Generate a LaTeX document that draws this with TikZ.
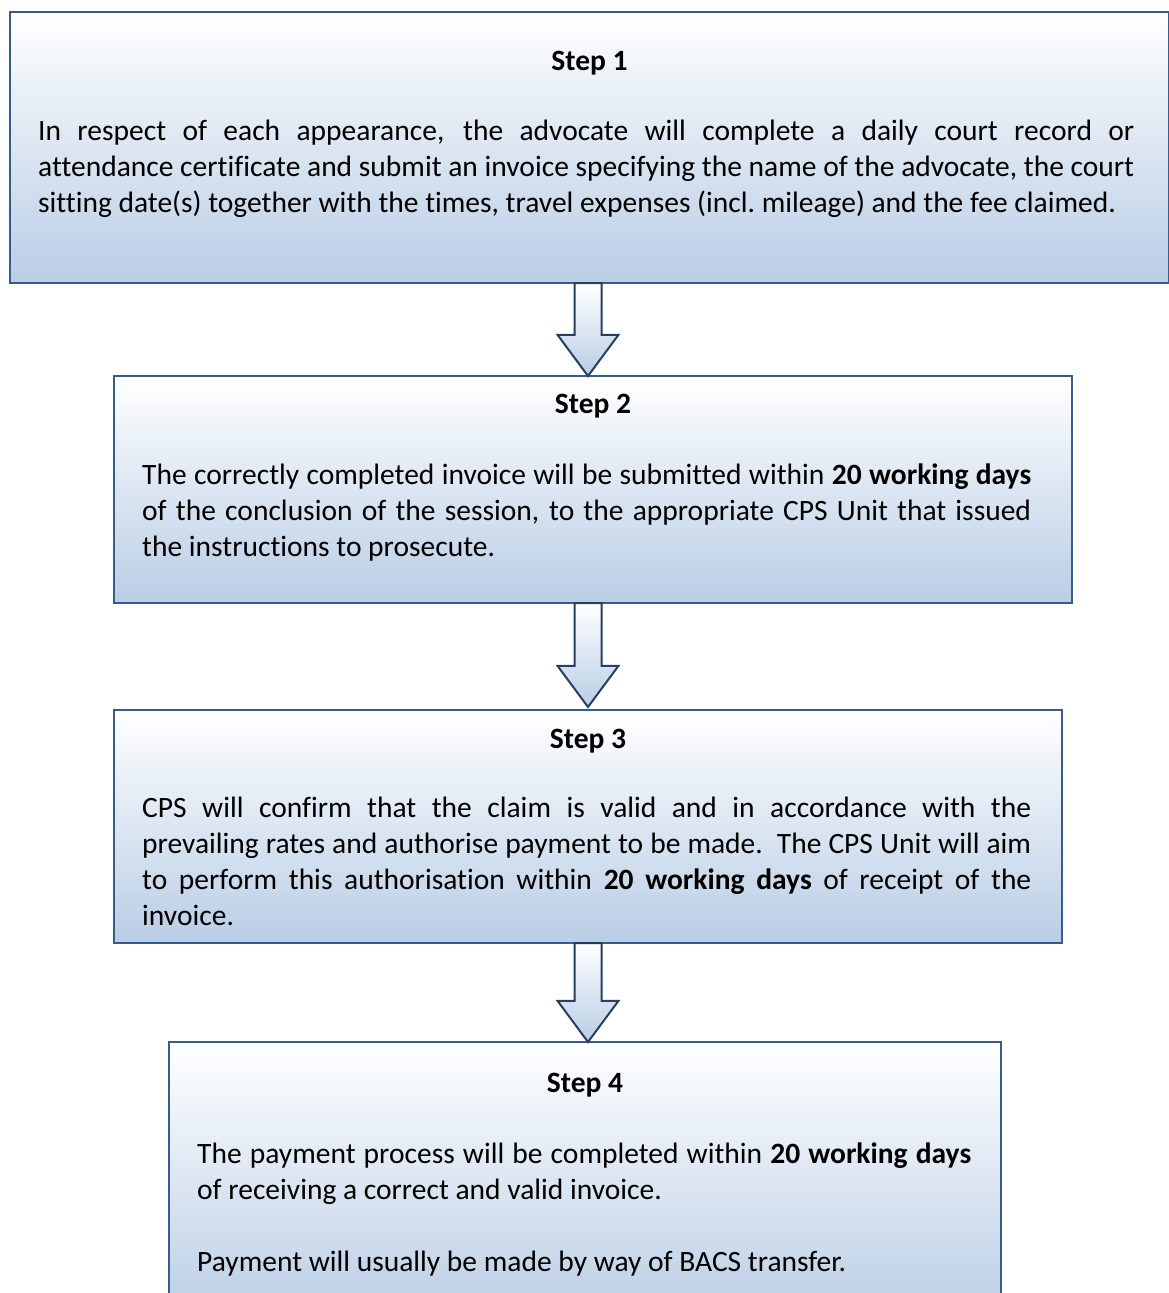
\documentclass[tikz,border=0pt]{standalone}
\usepackage{fontspec}
\setmainfont[Ligatures=CommonOff]{Carlito}
\usetikzlibrary{shapes.arrows}

\definecolor{boxline}{RGB}{56,93,138}
\definecolor{boxfill}{RGB}{185,205,229}
\definecolor{arrowline}{RGB}{36,63,96}
\newcommand\flowsize{\fontsize{29.5}{36}\selectfont}

\tikzset{
  stepbox/.style={draw=boxline, line width=2.5pt, top color=white,
    bottom color=boxfill, anchor=north west, inner sep=0pt, outer sep=0pt},
  steptitle/.style={anchor=base, inner sep=0pt, font=\flowsize\bfseries},
  stepbody/.style={anchor=base west, inner sep=0pt, align=justify},
  downarrow/.style={single arrow, shape border rotate=270, draw=arrowline,
    line width=2pt, top color=white, bottom color=boxfill,
    single arrow head extend=17pt, single arrow tip angle=73,
    single arrow head indent=0pt, inner sep=12.5pt, outer sep=0pt,
    anchor=tail}
}

\begin{document}
\begin{tikzpicture}[x=1pt,y=-1pt,font=\flowsize]
  \useasboundingbox (0,0) rectangle (1168,1293);
  \coordinate (axis) at (588,0);

  % boxes
  \node[stepbox, minimum width=1159, minimum height=271] (s1) at (10,12) {};
  \node[stepbox, minimum width=958, minimum height=227] (s2) at (114,376) {};
  \node[stepbox, minimum width=948, minimum height=233] (s3) at (114,710) {};
  \node[stepbox, minimum width=832, minimum height=280] (s4) at (169,1042) {};

  % arrows between the steps
  \node[downarrow, minimum height=93] (a1) at (s1.south -| axis) {};
  \node[downarrow, minimum height=104] (a2) at (s2.south -| axis) {};
  \node[downarrow, minimum height=99] (a3) at (s3.south -| axis) {};

  % step 1
  \node[steptitle] (t1) at ([yshift=-58pt]s1.north) {Step 1};
  \node[stepbody, text width=1096] (b1) at (38,140) {In respect of each
    appearance, the advocate will complete a daily court record or\linebreak
    attendance certificate and submit an invoice specifying the name of the
    advocate, the court\linebreak sitting date(s) together with the times,
    travel expenses (incl.\ mileage) and the fee claimed.};

  % step 2
  \node[steptitle] (t2) at ([yshift=-37pt]s2.north) {Step 2};
  \node[stepbody, text width=889] (b2) at (142,484) {The correctly completed
    invoice will be submitted within \textbf{20 working days}\linebreak of
    the conclusion of the session, to the appropriate CPS Unit that
    issued\linebreak the instructions to prosecute.};

  % step 3
  \node[steptitle] (t3) at ([yshift=-38pt]s3.north) {Step 3};
  \node[stepbody, text width=889] (b3) at (142,817) {CPS will confirm that
    the claim is valid and in accordance with the\linebreak prevailing rates
    and authorise payment to be made.\ \ The CPS Unit will aim\linebreak to
    perform this authorisation within \textbf{20 working days} of receipt of
    the\linebreak invoice.};

  % step 4
  \node[steptitle] (t4) at ([yshift=-50pt]s4.north) {Step 4};
  \node[stepbody, text width=774] (b4) at (197,1163) {The payment process
    will be completed within \textbf{20 working days}\linebreak of receiving
    a correct and valid invoice.\\[36pt] Payment will usually be made by way
    of BACS transfer.};
\end{tikzpicture}
\end{document}
